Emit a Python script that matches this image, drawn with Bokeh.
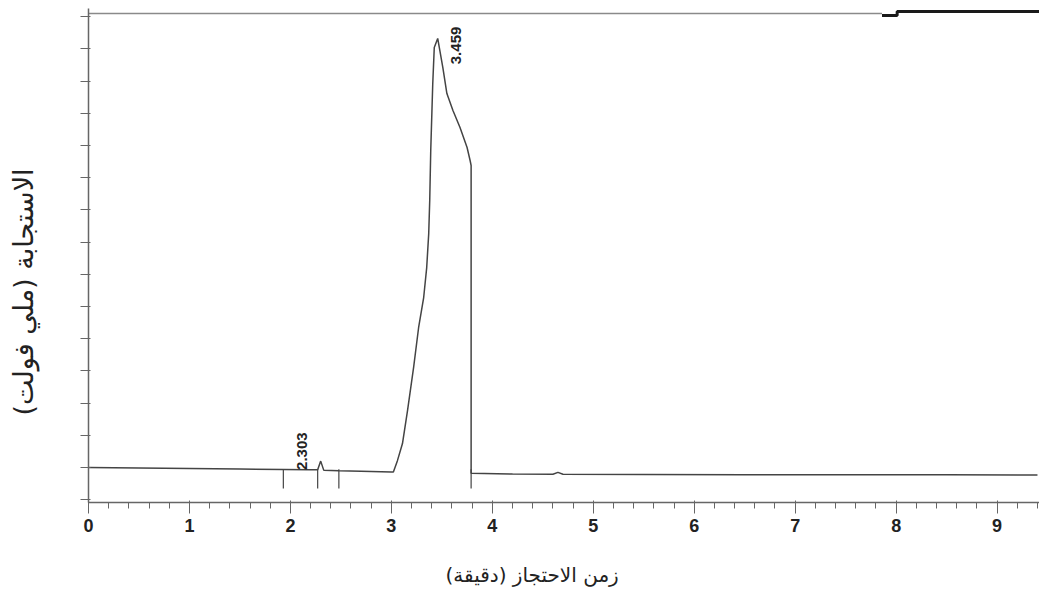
import numpy as np
from bokeh.plotting import figure
from bokeh.models import FixedTicker, Range1d, ColumnDataSource, Title
from bokeh.core.properties import value
from bokeh.embed import file_html
from bokeh.resources import INLINE

# ---- data ----
time = [0.0, 0.5, 1.0, 1.5, 1.93, 2.2, 2.27, 2.30, 2.33, 2.48, 2.7, 3.0, 3.02,
        3.06, 3.11, 3.16, 3.22, 3.27, 3.32, 3.35, 3.37, 3.38, 3.39, 3.41, 3.425,
        3.459, 3.51, 3.55, 3.61, 3.68, 3.75, 3.78, 3.79, 3.79, 4.2, 4.6, 4.65,
        4.7, 5.5, 6.5, 7.5, 8.5, 9.4]
signal = [0.0, -0.003, -0.006, -0.009, -0.012, -0.014, -0.014, 0.04, -0.016,
          -0.02, -0.023, -0.027, -0.028, 0.043, 0.149, 0.354, 0.621, 0.870,
          1.056, 1.242, 1.453, 1.658, 1.969, 2.385, 2.609, 2.665, 2.484, 2.323,
          2.217, 2.112, 1.988, 1.907, 1.876, -0.035, -0.040, -0.042, -0.030,
          -0.042, -0.043, -0.044, -0.045, -0.045, -0.046]

event_times = [1.93, 2.27, 2.48, 3.79]

peak_times = [2.303, 3.459]
peak_heights = [0.04, 2.665]
peak_labels = ["2.303", "3.459"]

upper_t = [0.0, 7.86]
upper_v = [2.82, 2.82]
aux_t = [7.86, 8.01, 8.01, 9.5]
aux_v = [2.807, 2.807, 2.832, 2.832]

x_ticks = [0, 1, 2, 3, 4, 5, 6, 7, 8, 9]
y_ticks = [i * 0.2 for i in range(-1, 15)]

x_title = "زمن الاحتجاز (دقيقة)"
y_title = "الاستجابة (ملي فولت)"

# ---- figure ----
p = figure(width=1039, height=612, output_backend="svg", toolbar_location=None,
           x_range=Range1d(0, 9.42), y_range=Range1d(-0.217, 2.851),
           min_border_left=88, min_border_right=0, min_border_top=8,
           min_border_bottom=110)
p.outline_line_color = None
p.background_fill_color = "white"
p.border_fill_color = "white"
p.grid.visible = False

trace_color = "#444444"
axis_color = "#666666"

p.line(upper_t, upper_v, line_color="#8a8a8a", line_width=1.5)
p.line(aux_t, aux_v, line_color="#1a1a1a", line_width=3)
p.line(time, signal, line_color=trace_color, line_width=1.5)

ev_top = [-0.01] * len(event_times)
ev_bot = [-0.13] * len(event_times)
p.segment(x0=event_times, y0=ev_top, x1=event_times, y1=ev_bot,
          line_color=trace_color, line_width=1.2)

src = ColumnDataSource(dict(t=peak_times, v=peak_heights, lab=peak_labels,
                            dx=[-19, 18], dy=[-10, 7]))
p.text(x="t", y="v", text="lab", source=src, angle=np.pi / 2,
       x_offset="dx", y_offset="dy", text_align="center",
       text_baseline="middle", text_font=value("Liberation Sans"),
       text_font_size="15px", text_font_style="bold", text_color="#222222")

# axes
xa = p.xaxis[0]
xa.ticker = FixedTicker(ticks=x_ticks,
                        minor_ticks=[i * 0.2 for i in range(0, 48)])
xa.axis_line_color = axis_color
xa.axis_line_width = 1.5
xa.major_tick_line_color = axis_color
xa.minor_tick_line_color = axis_color
xa.major_tick_in = 2
xa.major_tick_out = 11
xa.minor_tick_in = 0
xa.minor_tick_out = 6
xa.major_label_text_font = "Liberation Sans"
xa.major_label_text_font_style = "bold"
xa.major_label_text_font_size = "18px"
xa.major_label_text_color = "#222222"
xa.major_label_standoff = 5

ya = p.yaxis[0]
# y axis shows tick marks only (no tick labels), as in the reference
ya.ticker = FixedTicker(ticks=[], minor_ticks=y_ticks)
ya.axis_line_color = axis_color
ya.axis_line_width = 1.5
ya.minor_tick_line_color = axis_color
ya.minor_tick_line_width = 1.2
ya.minor_tick_in = 2
ya.minor_tick_out = 8

p.add_layout(Title(text=x_title, align="left", offset=357, standoff=52,
                   text_font="DejaVu Sans", text_font_size="20px",
                   text_font_style="normal", text_color="#222222"), "below")
p.add_layout(Title(text=y_title, align="left", offset=87, standoff=4,
                   padding=dict(left=0, right=0, top=0, bottom=40),
                   text_font="DejaVu Sans", text_font_size="27px",
                   text_font_style="normal", text_color="#222222"), "left")

open("out.html", "w").write(file_html(p, INLINE))
